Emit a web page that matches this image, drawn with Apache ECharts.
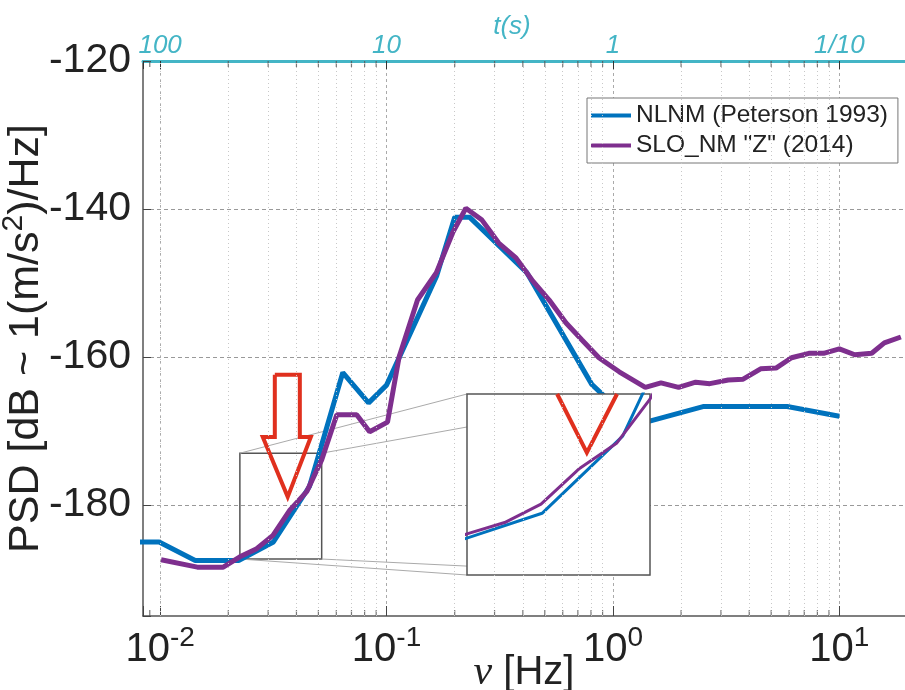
<!DOCTYPE html>
<html>
<head>
<meta charset="utf-8">
<title>NLNM vs SLO_NM</title>
<script src="https://cdn.jsdelivr.net/npm/echarts@6/dist/echarts.min.js"></script>
<style>
  html, body { margin: 0; padding: 0; background: #fff; }
  #chart { width: 905px; height: 690px; }
</style>
</head>
<body>
<div id="chart"></div>
<script>
// NLNM (Peterson 1993) breakpoints: frequency [Hz] / PSD [dB]
const nlnmFreq = [0.00649, 0.0099, 0.01429, 0.02222, 0.03165, 0.04566, 0.0641, 0.0833, 0.1, 0.1667, 0.2, 0.2326, 0.4167, 0.8065, 1.25, 2.5, 5.882, 10];
const nlnmPsd = [-185.0, -185.0, -187.5, -187.5, -185.0, -177.5, -162.1, -166.2, -163.8, -149.0, -141.1, -141.1, -148.6, -163.7, -169.2, -166.7, -166.7, -168.0];

// SLO_NM "Z" (2014)
const sloFreq = [0.0101, 0.0146, 0.019, 0.0225, 0.0267, 0.0315, 0.0374, 0.0444, 0.0517, 0.0603, 0.0738, 0.0842, 0.101, 0.1136, 0.137, 0.166, 0.196, 0.224, 0.264, 0.313, 0.373, 0.439, 0.523, 0.621, 0.73, 0.867, 1.066, 1.39, 1.63, 1.95, 2.32, 2.68, 3.23, 3.76, 4.49, 5.25, 6.15, 7.33, 8.52, 10.0, 11.7, 13.9, 15.8, 18.7];
const sloPsd = [-187.4, -188.4, -188.4, -187.0, -185.9, -184.1, -180.7, -178.2, -173.9, -167.8, -167.8, -170.1, -168.8, -160.0, -152.3, -148.6, -143.2, -139.9, -141.5, -144.6, -146.6, -149.6, -152.3, -155.4, -157.7, -160.1, -162.0, -164.1, -163.5, -164.1, -163.4, -163.6, -163.1, -163.0, -161.6, -161.5, -160.1, -159.5, -159.5, -158.9, -159.7, -159.5, -158.1, -157.3];

// axis ranges
const xRange = [0.0084, 19.5];
const yRange = [-195, -120];
const minorTicks = [0.009, 0.02, 0.03, 0.04, 0.05, 0.06, 0.07, 0.08, 0.09, 0.2, 0.3, 0.4, 0.5, 0.6, 0.7, 0.8, 0.9, 2, 3, 4, 5, 6, 7, 8, 9];
const periodExp = [-2, -1, 0, 1];
const periodLabels = ['100', '10', '1', '1/10'];

// zoomed region (small box) and inset ranges
const boxX = [0.0225, 0.0517];
const boxY = [-187.3, -173.0];
const insetX = [0.0225, 0.0517];
const insetY = [-191.0, -173.4];

// red arrow outline (main plot) and its magnified tip in the inset
const arrowFreq = [0.0321, 0.0414, 0.0414, 0.0463, 0.0366, 0.0284, 0.0321, 0.0321];
const arrowPsd = [-162.4, -162.4, -170.8, -170.8, -178.9, -170.8, -170.8, -162.4];
const insetArrowFreq = [0.0339, 0.0388, 0.0445];
const insetArrowPsd = [-173.4, -179.1, -173.4];

const BLUE = '#0072BD';
const PURPLE = '#7E2F8E';
const RED = '#E0301E';
const CYAN = '#44B5C6';
const FONT = 'Liberation Sans, Arial, sans-serif';

const zip = (a, b) => a.map((v, i) => [v, b[i]]);

const isDecade = (v) => Math.abs(Math.log10(v) - Math.round(Math.log10(v))) < 1e-6;

const chart = echarts.init(document.getElementById('chart'), null, { renderer: 'canvas' });

const option = {
    animation: false,
    backgroundColor: '#fff',
    textStyle: { fontFamily: FONT },
    legend: {
        data: ['NLNM (Peterson 1993)', 'SLO_NM "Z" (2014)'],
        orient: 'vertical',
        left: 587,
        top: 98,
        icon: 'rect',
        itemWidth: 40,
        itemHeight: 4,
        itemGap: 5,
        padding: [5, 10, 5, 4],
        borderColor: '#777',
        borderWidth: 1,
        backgroundColor: '#fff',
        textStyle: { fontSize: 24.5, color: '#222', fontFamily: FONT },
    },
    grid: [
        { left: 143, top: 61, right: 0, bottom: 74, outerBoundsMode: 'none', containLabel: false },
        {
            left: 467, top: 394, width: 183, height: 181, z: 3, outerBoundsMode: 'none',
            show: true, backgroundColor: '#fff', borderColor: '#555', borderWidth: 1.5,
        },
    ],
    xAxis: [
        {
            type: 'log', gridIndex: 0, position: 'bottom',
            min: xRange[0], max: xRange[1],
            name: '{i|ν} [Hz]', nameLocation: 'middle', nameGap: 36, nameMoveOverlap: false,
            nameTextStyle: {
                fontSize: 40, color: '#222',
                rich: { i: { fontSize: 42, fontStyle: 'italic', fontFamily: 'Liberation Serif, serif', color: '#222' } },
            },
            axisLine: { lineStyle: { color: '#555', width: 1.5 } },
            axisTick: { inside: true, length: 10, lineStyle: { color: '#444' } },
            axisLabel: {
                margin: 8, color: '#222',
                formatter: (v) => isDecade(v) ? '{b|10}{s|' + Math.round(Math.log10(v)) + '}' : '',
                rich: {
                    b: { fontSize: 40, color: '#222', fontFamily: FONT },
                    s: { fontSize: 28, color: '#222', fontFamily: FONT, padding: [0, 0, 24, 0] },
                },
            },
            splitLine: { show: true, showMinLine: false, showMaxLine: false, lineStyle: { color: '#aaa', type: [3, 3] } },
        },
        {
            type: 'log', gridIndex: 0, position: 'top',
            min: xRange[0], max: xRange[1],
            name: 't(s)', nameLocation: 'middle', nameGap: 21, nameMoveOverlap: false,
            nameTextStyle: { fontSize: 26, fontStyle: 'italic', color: CYAN, padding: [0, 24, 0, 0] },
            axisLine: { lineStyle: { color: CYAN, width: 3 } },
            axisTick: { inside: true, length: 8, lineStyle: { color: '#333' } },
            axisLabel: {
                margin: 2, fontSize: 26, fontStyle: 'italic', color: CYAN,
                formatter: (v) => {
                    if (!isDecade(v)) return '';
                    const k = periodExp.indexOf(Math.round(Math.log10(v)));
                    return k < 0 ? '' : periodLabels[k];
                },
            },
            splitLine: { show: false },
        },
        {
            type: 'log', gridIndex: 1, min: insetX[0], max: insetX[1],
            axisLine: { show: false }, axisTick: { show: false },
            axisLabel: { show: false }, splitLine: { show: false },
        },
    ],
    yAxis: [
        {
            type: 'value', gridIndex: 0, min: yRange[0], max: yRange[1], splitNumber: 4,
            name: 'PSD [dB ~ 1(m/s{s|2})/Hz]', nameLocation: 'middle', nameGap: 90, nameMoveOverlap: false,
            nameTextStyle: {
                fontSize: 43, color: '#222',
                rich: { s: { fontSize: 30, color: '#222', padding: [0, 0, 24, 0] } },
            },
            axisLine: { show: true, lineStyle: { color: '#555', width: 1.5 } },
            axisTick: { show: true, inside: true, length: 8, lineStyle: { color: '#444' } },
            axisLabel: {
                margin: 12, fontSize: 41, color: '#222', padding: [12, 0, 0, 0],
                formatter: (v) => (v % 20 === 0 ? String(v) : ''),
            },
            splitLine: { show: true, showMinLine: false, lineStyle: { color: '#999', type: [4, 3] } },
        },
        {
            type: 'value', gridIndex: 1, min: insetY[0], max: insetY[1],
            axisLine: { show: false }, axisTick: { show: false },
            axisLabel: { show: false }, splitLine: { show: false },
        },
    ],
    series: [
        {
            // minor log grid lines and minor ticks on the bottom axis
            name: 'minorBottom', type: 'scatter', xAxisIndex: 0, yAxisIndex: 0, z: 1, silent: true,
            data: minorTicks.map((f) => [f, yRange[0]]),
            symbol: 'rect', symbolSize: [1.2, 6], symbolOffset: [0, -3],
            itemStyle: { color: '#555' },
            markLine: {
                silent: true, symbol: 'none', label: { show: false },
                lineStyle: { color: '#c8c8c8', type: [1, 3], width: 1 },
                data: minorTicks.map((f) => ({ xAxis: f })),
            },
        },
        {
            name: 'minorTop', type: 'scatter', xAxisIndex: 1, yAxisIndex: 0, z: 1, silent: true,
            data: minorTicks.map((f) => [f, yRange[1]]),
            symbol: 'rect', symbolSize: [1.2, 6], symbolOffset: [0, 3],
            itemStyle: { color: '#555' },
        },
        {
            name: 'NLNM (Peterson 1993)', type: 'line', xAxisIndex: 0, yAxisIndex: 0, z: 2,
            data: zip(nlnmFreq, nlnmPsd), showSymbol: false, symbol: 'none',
            lineStyle: { color: BLUE, width: 5 }, itemStyle: { color: BLUE },
            markArea: {
                silent: true,
                itemStyle: { color: 'rgba(0,0,0,0)', borderColor: '#555', borderWidth: 1.5 },
                data: [[{ xAxis: boxX[0], yAxis: boxY[0] }, { xAxis: boxX[1], yAxis: boxY[1] }]],
            },
        },
        {
            name: 'SLO_NM "Z" (2014)', type: 'line', xAxisIndex: 0, yAxisIndex: 0, z: 2,
            data: zip(sloFreq, sloPsd), showSymbol: false, symbol: 'none',
            lineStyle: { color: PURPLE, width: 5 }, itemStyle: { color: PURPLE },
        },
        {
            name: 'arrow', type: 'line', xAxisIndex: 0, yAxisIndex: 0, z: 2.5, silent: true,
            data: zip(arrowFreq, arrowPsd), showSymbol: false, symbol: 'none',
            lineStyle: { color: RED, width: 4, join: 'miter' },
        },
        {
            name: 'insetNLNM', type: 'line', xAxisIndex: 2, yAxisIndex: 1, z: 4, silent: true,
            data: zip(nlnmFreq, nlnmPsd), showSymbol: false, symbol: 'none',
            lineStyle: { color: BLUE, width: 3 },
        },
        {
            name: 'insetSLO', type: 'line', xAxisIndex: 2, yAxisIndex: 1, z: 4, silent: true,
            data: zip(sloFreq, sloPsd), showSymbol: false, symbol: 'none',
            lineStyle: { color: PURPLE, width: 3 },
        },
        {
            name: 'insetArrow', type: 'line', xAxisIndex: 2, yAxisIndex: 1, z: 4, silent: true,
            data: zip(insetArrowFreq, insetArrowPsd), showSymbol: false, symbol: 'none',
            lineStyle: { color: RED, width: 4, join: 'miter' },
        },
    ],
};

chart.setOption(option);

// thin connector lines from the small box corners to the inset corners
const mainPx = (f, v) => chart.convertToPixel({ xAxisIndex: 0, yAxisIndex: 0 }, [f, v]);
const insetPx = (f, v) => chart.convertToPixel({ xAxisIndex: 2, yAxisIndex: 1 }, [f, v]);
const corners = [[0, 1], [1, 1], [0, 0], [1, 0]];
chart.setOption({
    graphic: corners.map(([i, j]) => {
        const a = mainPx(boxX[i], boxY[j]);
        const b = insetPx(insetX[i], insetY[j]);
        return {
            type: 'line', z: 1, silent: true,
            shape: { x1: a[0], y1: a[1], x2: b[0], y2: b[1] },
            style: { stroke: '#aaa', lineWidth: 1 },
        };
    }),
});
</script>
</body>
</html>
